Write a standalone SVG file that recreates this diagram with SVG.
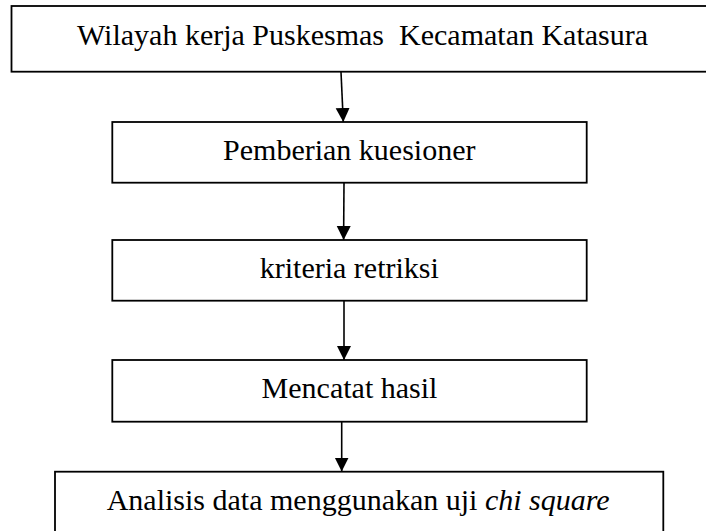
<svg xmlns="http://www.w3.org/2000/svg" width="706" height="531" viewBox="0 0 706 531">
  <defs>
    <style>
      .box { fill: #ffffff; stroke: #000000; stroke-width: 1.8; }
      .lbl { font-family: "Liberation Serif", "Times New Roman", serif; font-size: 30px; fill: #000000; }
      .conn { stroke: #000000; stroke-width: 1.6; fill: none; marker-end: url(#arrow); }
    </style>
    <marker id="arrow" markerUnits="userSpaceOnUse" markerWidth="15" markerHeight="15" refX="14" refY="7" orient="auto">
      <path d="M0,0 L14,7 L0,14 Z" fill="#000000"/>
    </marker>
  </defs>
  <rect width="706" height="531" fill="#ffffff"/>

  <g id="connectors">
    <line class="conn" x1="341" y1="72" x2="343.3" y2="122"/>
    <line class="conn" x1="344" y1="183" x2="343.6" y2="240"/>
    <line class="conn" x1="344" y1="301" x2="344" y2="360"/>
    <line class="conn" x1="341.7" y1="422" x2="341.7" y2="471.5"/>
  </g>

  <g id="node-wilayah">
    <rect class="box" x="11.5" y="6" width="700" height="65.7"/>
    <text class="lbl" x="77" y="44.5" xml:space="preserve">Wilayah kerja Puskesmas  Kecamatan Katasura</text>
  </g>

  <g id="node-pemberian">
    <rect class="box" x="112.3" y="122" width="474.4" height="60.7"/>
    <text class="lbl" x="349.3" y="159.5" text-anchor="middle">Pemberian kuesioner</text>
  </g>

  <g id="node-kriteria">
    <rect class="box" x="112.3" y="240" width="474.4" height="60.7"/>
    <text class="lbl" x="349.3" y="278.3" text-anchor="middle">kriteria retriksi</text>
  </g>

  <g id="node-mencatat">
    <rect class="box" x="112.3" y="360" width="474.4" height="61.7"/>
    <text class="lbl" x="349.5" y="398.3" text-anchor="middle">Mencatat hasil</text>
  </g>

  <g id="node-analisis">
    <rect class="box" x="55" y="471.7" width="608.3" height="70"/>
    <text class="lbl" x="106.7" y="510" xml:space="preserve">Analisis data menggunakan uji <tspan font-style="italic">chi square</tspan></text>
  </g>
</svg>
